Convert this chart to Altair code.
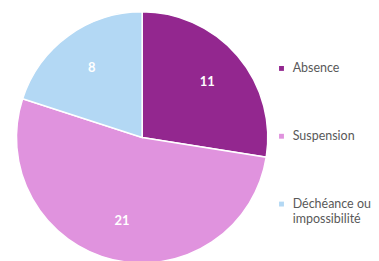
import altair as alt
import pandas as pd

categories = ["Absence", "Suspension", "Déchéance ou impossibilité"]
values = [11, 21, 8]
colors = ["#93278F", "#E093DE", "#B3D8F4"]

df = pd.DataFrame({"cat": categories, "value": values, "order": list(range(len(values)))})

base = alt.Chart(df).encode(
    theta=alt.Theta("value:Q", stack=True),
    order=alt.Order("order:Q"),
)

color = alt.Color(
    "cat:N",
    scale=alt.Scale(domain=categories, range=colors),
    sort=categories,
    legend=alt.Legend(
        title=None,
        orient="none",
        legendX=268,
        legendY=48,
        symbolType="square",
        symbolSize=24,
        symbolStrokeWidth=0,
        labelFont="Lato",
        labelFontSize=12.5,
        labelColor="#595959",
        labelLimit=200,
        rowPadding=55,
        labelOffset=5,
        labelExpr="datum.label == 'Déchéance ou impossibilité' ? ['Déchéance ou', 'impossibilité'] : datum.label",
    ),
)

arcs = base.mark_arc(outerRadius=126, stroke="white", strokeWidth=1.5).encode(color=color)

labels = base.mark_text(radius=86, font="Lato", fontSize=13, fontWeight="bold", color="white").encode(
    text=alt.Text("value:Q")
)

chart = (arcs + labels).properties(width=269, height=247, padding=0).configure_view(stroke=None)

chart.save("out.html", embed_options={"renderer": "svg", "actions": False})
